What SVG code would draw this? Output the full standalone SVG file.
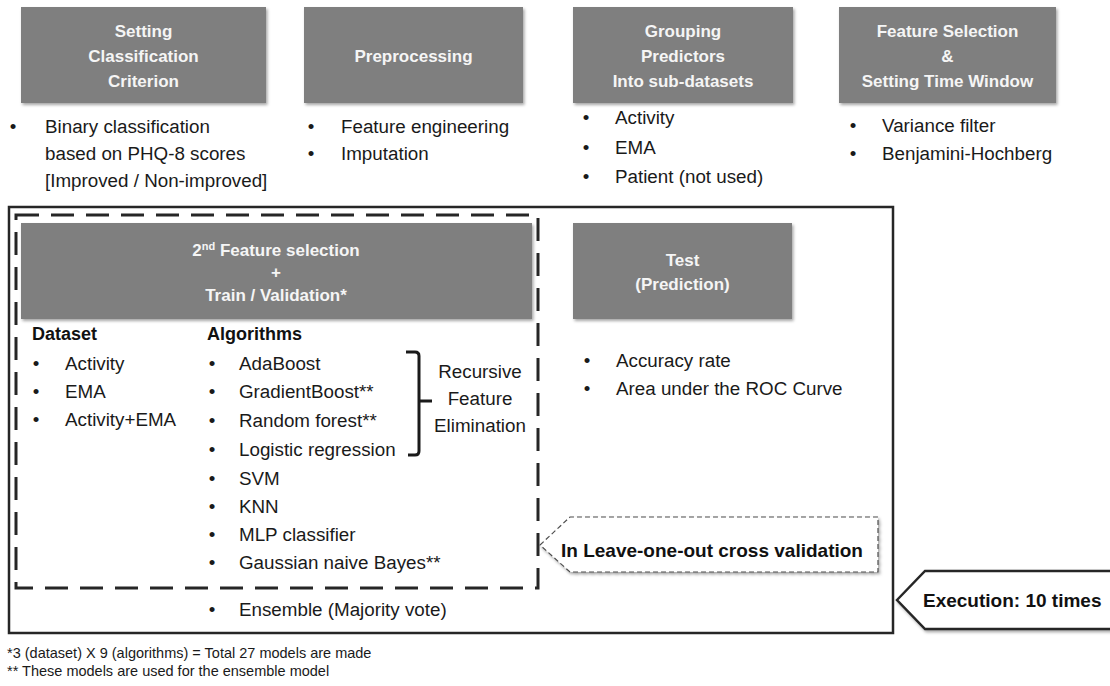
<svg xmlns="http://www.w3.org/2000/svg" width="1110" height="686" viewBox="0 0 1110 686">
  <defs>
    <filter id="shadow" x="-5%" y="-10%" width="115%" height="130%">
      <feDropShadow dx="1.5" dy="2" stdDeviation="1.5" flood-color="#000" flood-opacity="0.35"/>
    </filter>
    <style>
      .box{fill:#7f7f7f;filter:url(#shadow)}
      .ttl{font-family:"Liberation Sans",Arial,sans-serif;font-weight:bold;font-size:17px;fill:#f5f5f5;text-anchor:middle}
      .txt{font-family:"Liberation Sans",Arial,sans-serif;font-size:18.8px;fill:#1a1a1a}
      .bul{text-anchor:middle}
      .mid{text-anchor:middle}
      .hd{font-family:"Liberation Sans",Arial,sans-serif;font-weight:bold;font-size:18px;fill:#111}
      .tag{font-family:"Liberation Sans",Arial,sans-serif;font-weight:bold;font-size:19px;fill:#111}
      .note{font-family:"Liberation Sans",Arial,sans-serif;font-size:14.5px;fill:#1a1a1a}
      .frame{fill:none;stroke:#262626;stroke-width:2.5}
      .loop{fill:none;stroke:#262626;stroke-width:3;stroke-dasharray:23 12}
      .tagbox{fill:#fff;filter:url(#shadow)}
      .brace{fill:none;stroke:#1a1a1a;stroke-width:3;stroke-linejoin:round}
    </style>
  </defs>

  <rect width="1110" height="686" fill="#fff"/>

  <!-- Step 1 -->
  <g id="setting-criterion">
    <rect class="box" x="21" y="7" width="245" height="96"/>
    <text class="ttl" x="143.5" y="37">Setting</text>
    <text class="ttl" x="143.5" y="62">Classification</text>
    <text class="ttl" x="143.5" y="87">Criterion</text>
    <text class="txt bul" x="13" y="133">•</text>
    <text class="txt" x="45" y="133">Binary classification</text>
    <text class="txt" x="45" y="160">based on PHQ-8 scores</text>
    <text class="txt" x="45" y="187">[Improved / Non-improved]</text>
  </g>

  <!-- Step 2 -->
  <g id="preprocessing">
    <rect class="box" x="304" y="7" width="219" height="96"/>
    <text class="ttl" x="413.5" y="62">Preprocessing</text>
    <text class="txt bul" x="311" y="133">•</text>
    <text class="txt" x="341" y="133">Feature engineering</text>
    <text class="txt bul" x="311" y="160">•</text>
    <text class="txt" x="341" y="160">Imputation</text>
  </g>

  <!-- Step 3 -->
  <g id="grouping-predictors">
    <rect class="box" x="573" y="7" width="220" height="96"/>
    <text class="ttl" x="683" y="37">Grouping</text>
    <text class="ttl" x="683" y="62">Predictors</text>
    <text class="ttl" x="683" y="87">Into sub-datasets</text>
    <text class="txt bul" x="586" y="124">•</text>
    <text class="txt" x="615" y="124">Activity</text>
    <text class="txt bul" x="586" y="154">•</text>
    <text class="txt" x="615" y="154">EMA</text>
    <text class="txt bul" x="586" y="183">•</text>
    <text class="txt" x="615" y="183">Patient (not used)</text>
  </g>

  <!-- Step 4 -->
  <g id="feature-selection">
    <rect class="box" x="839" y="7" width="217" height="96"/>
    <text class="ttl" x="947.5" y="37">Feature Selection</text>
    <text class="ttl" x="947.5" y="62">&amp;</text>
    <text class="ttl" x="947.5" y="87">Setting Time Window</text>
    <text class="txt bul" x="853" y="132">•</text>
    <text class="txt" x="882" y="132">Variance filter</text>
    <text class="txt bul" x="853" y="160">•</text>
    <text class="txt" x="882" y="160">Benjamini-Hochberg</text>
  </g>

  <!-- Repeated execution frame -->
  <g id="execution-frame">
    <rect class="frame" x="9" y="207" width="884" height="426"/>
  </g>
  <g id="execution-tag">
    <path class="tagbox" d="M897,600 L925,571 L1116,571 L1116,629 L925,629 Z" stroke="#262626" stroke-width="2.5"/>
    <text class="tag" x="923" y="607">Execution: 10 times</text>
  </g>

  <!-- Leave-one-out loop -->
  <g id="loocv-frame">
    <rect class="loop" x="16" y="215" width="522" height="373"/>
  </g>
  <g id="loocv-tag">
    <path class="tagbox" d="M540,545 L570,517 L878,517 L878,572 L570,572 Z" stroke="#4d4d4d" stroke-width="1.2" stroke-dasharray="5 3"/>
    <text class="tag" x="561" y="557">In Leave-one-out cross validation</text>
  </g>

  <!-- Training / validation stage -->
  <g id="train-validation">
    <rect class="box" x="21" y="223" width="511" height="96"/>
    <text class="ttl" x="276" y="256">2<tspan font-size="11" dy="-6">nd</tspan><tspan dy="6"> Feature selection</tspan></text>
    <text class="ttl" x="276" y="278">+</text>
    <text class="ttl" x="276" y="301">Train / Validation*</text>
  </g>

  <g id="datasets">
    <text class="hd" x="32" y="340">Dataset</text>
    <text class="txt bul" x="36" y="370">•</text>
    <text class="txt" x="65" y="370">Activity</text>
    <text class="txt bul" x="36" y="398">•</text>
    <text class="txt" x="65" y="398">EMA</text>
    <text class="txt bul" x="36" y="426">•</text>
    <text class="txt" x="65" y="426">Activity+EMA</text>
  </g>

  <g id="algorithms">
    <text class="hd" x="207" y="340">Algorithms</text>
    <text class="txt bul" x="212" y="370">•</text>
    <text class="txt" x="239" y="370">AdaBoost</text>
    <text class="txt bul" x="212" y="398">•</text>
    <text class="txt" x="239" y="398">GradientBoost**</text>
    <text class="txt bul" x="212" y="427">•</text>
    <text class="txt" x="239" y="427">Random forest**</text>
    <text class="txt bul" x="212" y="456">•</text>
    <text class="txt" x="239" y="456">Logistic regression</text>
    <text class="txt bul" x="212" y="485">•</text>
    <text class="txt" x="239" y="485">SVM</text>
    <text class="txt bul" x="212" y="513">•</text>
    <text class="txt" x="239" y="513">KNN</text>
    <text class="txt bul" x="212" y="541">•</text>
    <text class="txt" x="239" y="541">MLP classifier</text>
    <text class="txt bul" x="212" y="569">•</text>
    <text class="txt" x="239" y="569">Gaussian naive Bayes**</text>
  </g>

  <g id="ensemble">
    <text class="txt bul" x="212" y="616">•</text>
    <text class="txt" x="239" y="616">Ensemble (Majority vote)</text>
  </g>

  <g id="rfe">
    <path class="brace" d="M406,352 L415,352 Q419,352 419,356 L419,451 Q419,455 415,455 L408,455 M419,401 L432,401"/>
    <text class="txt mid" x="480" y="378">Recursive</text>
    <text class="txt mid" x="480" y="405">Feature</text>
    <text class="txt mid" x="480" y="432">Elimination</text>
  </g>

  <!-- Test stage -->
  <g id="test">
    <rect class="box" x="573" y="223" width="219" height="96"/>
    <text class="ttl" x="682.5" y="266">Test</text>
    <text class="ttl" x="682.5" y="290">(Prediction)</text>
    <text class="txt bul" x="587" y="367">•</text>
    <text class="txt" x="616" y="367">Accuracy rate</text>
    <text class="txt bul" x="587" y="395">•</text>
    <text class="txt" x="616" y="395">Area under the ROC Curve</text>
  </g>

  <!-- Footnotes -->
  <g id="notes">
    <text class="note" x="7" y="658">*3 (dataset) X 9 (algorithms) = Total 27 models are made</text>
    <text class="note" x="7" y="676">** These models are used for the ensemble model</text>
  </g>
</svg>
